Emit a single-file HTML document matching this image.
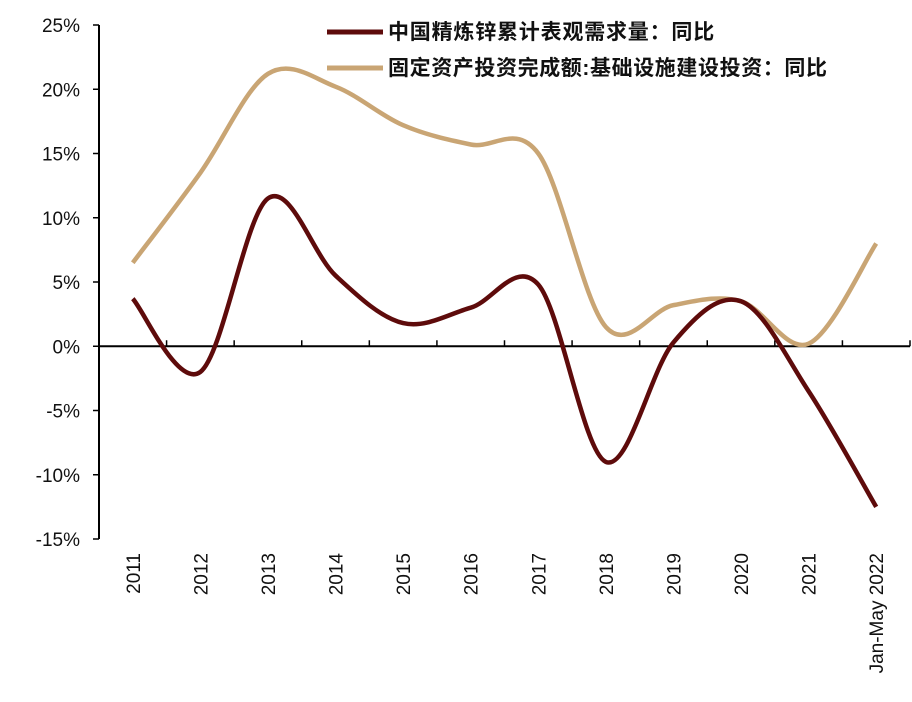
<!DOCTYPE html>
<html><head><meta charset="utf-8"><style>
body{margin:0;background:#fff;}
svg{display:block;font-family:"Liberation Sans","Noto Sans CJK SC",sans-serif;}
</style></head><body>
<svg id="chart" width="912" height="702" viewBox="0 0 912 702">
<g id="axes"></g><g id="series"></g>
<g>
<line x1="327" y1="32" x2="383" y2="32" stroke="#5e0b0b" stroke-width="5"/>
<text x="388" y="39" font-size="21" letter-spacing="0.8" font-weight="bold" fill="#111">中国精炼锌累计表观需求量：同比</text>
<line x1="327" y1="68" x2="383" y2="68" stroke="#c9a574" stroke-width="5"/>
<text x="388" y="75" font-size="21" letter-spacing="0.6" font-weight="bold" fill="#111">固定资产投资完成额:基础设施建设投资：同比</text>
</g>
</svg>
<script>
const categories=["2011","2012","2013","2014","2015","2016","2017","2018","2019","2020","2021","Jan-May 2022"];
const zincValues=[3.7,-2.0,11.5,5.5,1.8,3.0,4.8,-9.0,0.3,3.5,-3.5,-12.5];
const infraValues=[6.5,13.5,21.2,20.2,17.2,15.7,15.0,1.5,3.2,3.5,0.2,8.0];
const yTicks=[25,20,15,10,5,0,-5,-10,-15];
const NS="http://www.w3.org/2000/svg";
const x0=99,x1=910,yTop=25,yBot=539,vMax=25,vMin=-15;
const step=(x1-x0)/categories.length;
const xPos=i=>x0+step*(i+0.5);
const yPos=v=>yTop+(vMax-v)/(vMax-vMin)*(yBot-yTop);
function mk(tag,attrs,parent){const e=document.createElementNS(NS,tag);for(const k in attrs)e.setAttribute(k,attrs[k]);parent.appendChild(e);return e;}
const axes=document.getElementById('axes');
let yl=mk('line',{x1:x0,y1:yTop,x2:x0,y2:yBot,stroke:'#000','stroke-width':2},axes);


let xl=mk('line',{x1:x0,y1:yPos(0),x2:x1,y2:yPos(0),stroke:'#000','stroke-width':2},axes);


yTicks.forEach(t=>{
  const y=yPos(t);
  let tk=mk('line',{x1:x0-6,y1:y,x2:x0,y2:y,stroke:'#000','stroke-width':1.5},axes);
  
  
  let tx=mk('text',{x:x0-19,y:y+7,'text-anchor':'end','font-size':19,fill:'#111'},axes);
  tx.textContent=t+'%';
  
  
});
for(let i=0;i<=categories.length;i++){
  const x=x0+step*i;
  let tk=mk('line',{x1:x,y1:yPos(0)-6,x2:x,y2:yPos(0),stroke:'#000','stroke-width':1.5},axes);
  
  
}
categories.forEach((c,i)=>{
  const x=xPos(i)+7,y=553;
  let tx=mk('text',{x:x,y:y,'text-anchor':'end','font-size':19,fill:'#111',transform:`rotate(-90 ${x} ${y})`},axes);
  tx.textContent=c;
  
  
});
function smoothPath(vals){
  const p=vals.map((v,i)=>[xPos(i),yPos(v)]);
  let d=`M${p[0][0]},${p[0][1]}`;
  for(let i=0;i<p.length-1;i++){
    const a=p[Math.max(0,i-1)],b=p[i],c=p[i+1],e=p[Math.min(p.length-1,i+2)];
    const t=1/6;
    d+=` C${b[0]+(c[0]-a[0])*t},${b[1]+(c[1]-a[1])*t} ${c[0]-(e[0]-b[0])*t},${c[1]-(e[1]-b[1])*t} ${c[0]},${c[1]}`;
  }
  return d;
}
const series=document.getElementById('series');
let infra=mk('path',{d:smoothPath(infraValues),fill:'none',stroke:'#c9a574','stroke-width':4.5,'stroke-linejoin':'round'},series);


let zinc=mk('path',{d:smoothPath(zincValues),fill:'none',stroke:'#5e0b0b','stroke-width':4.5,'stroke-linejoin':'round'},series);


</script>
</body></html>
